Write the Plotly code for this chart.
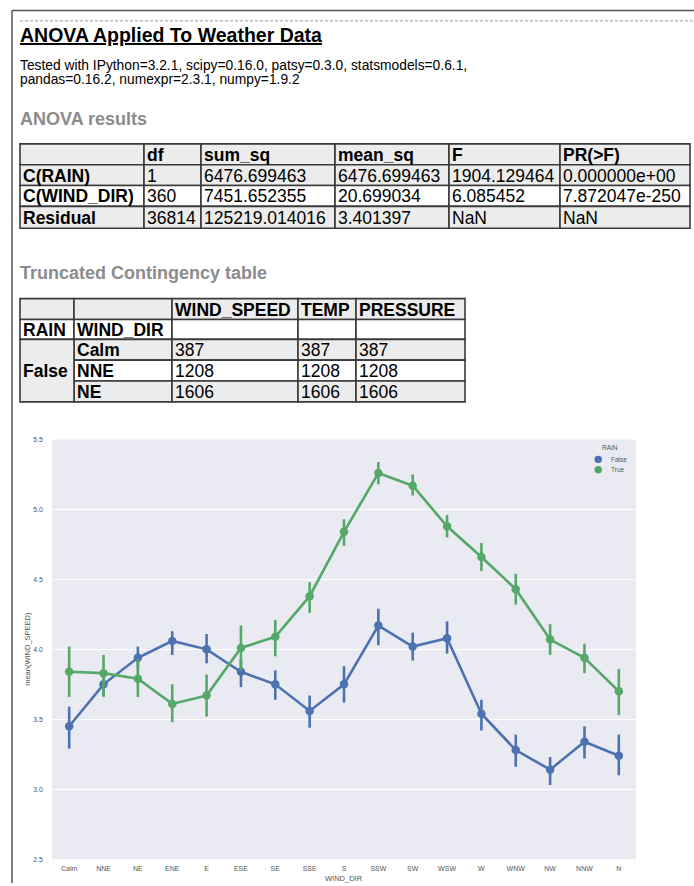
import plotly.graph_objects as go

# ---------------- data ----------------
wind_dirs = ["Calm", "NNE", "NE", "ENE", "E", "ESE", "SE", "SSE", "S",
             "SSW", "SW", "WSW", "W", "WNW", "NW", "NNW", "N"]

# mean wind speed with 95% CI bounds, split by RAIN
false_mean = [3.45, 3.75, 3.94, 4.06, 4.00, 3.84, 3.75, 3.56, 3.75,
              4.17, 4.02, 4.08, 3.54, 3.28, 3.14, 3.34, 3.24]
false_lo = [3.29, 3.67, 3.86, 3.96, 3.90, 3.73, 3.64, 3.44, 3.62,
            4.03, 3.92, 3.97, 3.42, 3.16, 3.03, 3.22, 3.10]
false_hi = [3.59, 3.85, 4.02, 4.13, 4.11, 3.93, 3.85, 3.67, 3.88,
            4.29, 4.12, 4.20, 3.64, 3.39, 3.23, 3.45, 3.39]

true_mean = [3.84, 3.83, 3.79, 3.61, 3.67, 4.01, 4.09, 4.38, 4.84,
             5.26, 5.17, 4.88, 4.66, 4.43, 4.07, 3.94, 3.70]
true_lo = [3.66, 3.66, 3.66, 3.48, 3.52, 3.85, 3.95, 4.26, 4.74,
           5.18, 5.10, 4.80, 4.56, 4.32, 3.96, 3.83, 3.53]
true_hi = [4.02, 3.96, 3.93, 3.75, 3.82, 4.17, 4.21, 4.48, 4.93,
           5.34, 5.25, 4.96, 4.76, 4.54, 4.18, 4.04, 3.86]

y_ticks = [2.5, 3.0, 3.5, 4.0, 4.5, 5.0, 5.5]

# ANOVA results table
anova_cols = ["df", "sum_sq", "mean_sq", "F", "PR(>F)"]
anova_index = ["C(RAIN)", "C(WIND_DIR)", "Residual"]
anova_df = ["1", "360", "36814"]
anova_sum_sq = ["6476.699463", "7451.652355", "125219.014016"]
anova_mean_sq = ["6476.699463", "20.699034", "3.401397"]
anova_F = ["1904.129464", "6.085452", "NaN"]
anova_PR = ["0.000000e+00", "7.872047e-250", "NaN"]

# truncated contingency table
ct_cols = ["WIND_SPEED", "TEMP", "PRESSURE"]
ct_index_names = ["RAIN", "WIND_DIR"]
ct_rain = "False"
ct_dirs = ["Calm", "NNE", "NE"]
ct_wind_speed = [387, 1208, 1606]
ct_temp = [387, 1208, 1606]
ct_pressure = [387, 1208, 1606]

# ---------------- page helpers ----------------
W, H = 694, 886
FONT = "Liberation Sans, Arial, Helvetica, sans-serif"
BLUE = "#4C72B0"
GREEN = "#55A868"
GRID_BG = "#EAEAF2"
ROW_GRAY = "#ECECEC"
RULE = "#3a3a3a"
TABLE_SIZE = 17.5


def fx(x):
    return x / W


def fy(y):
    return 1 - y / H


shapes = []
annotations = []


def text(x, y, s, size, color="#000", bold=False, anchor="left",
         family=FONT, angle=0):
    annotations.append(dict(
        x=fx(x), y=fy(y), xref="paper", yref="paper",
        text=f"<b>{s}</b>" if bold else s, showarrow=False,
        xanchor=anchor, yanchor="middle", textangle=angle,
        borderpad=0, borderwidth=0,
        font=dict(size=size, color=color, family=family)))


def line(x0, y0, x1, y1, color, width, dash="solid"):
    shapes.append(dict(type="line", xref="paper", yref="paper",
                       x0=fx(x0), y0=fy(y0), x1=fx(x1), y1=fy(y1),
                       line=dict(color=color, width=width, dash=dash)))


def cell(x0, y0, x1, y1, fill):
    shapes.append(dict(type="rect", xref="paper", yref="paper",
                       x0=fx(x0), x1=fx(x1), y0=fy(y1), y1=fy(y0),
                       fillcolor=fill, line=dict(color=RULE, width=1.6),
                       layer="below"))


def table(x_edges, y_edges, rows, fills, bold_rows, bold_cols, size):
    for r, row in enumerate(rows):
        for c, val in enumerate(row):
            if val is None:
                continue
            cell(x_edges[c], y_edges[r], x_edges[c + 1], y_edges[r + 1], fills[r])
            if val != "":
                b = r in bold_rows or c in bold_cols
                text(x_edges[c] + 2.5, (y_edges[r] + y_edges[r + 1]) / 2 + 0.5,
                     val, size, bold=b)


# ---------------- page frame and headings ----------------
line(12, 6.5, W, 6.5, "#555", 1.5)
line(12, 6.5, 12, H, "#555", 1.5)
line(20, 17, W, 17, "#9a9a9a", 1, dash="3px,2px")

text(20, 31, "<u>ANOVA Applied To Weather Data</u>", 19.5, bold=True)
text(20, 62, "Tested with IPython=3.2.1, scipy=0.16.0, patsy=0.3.0, statsmodels=0.6.1,",
     13.8)
text(20, 76, "pandas=0.16.2, numexpr=2.3.1, numpy=1.9.2", 13.8)

text(20, 116, "ANOVA results", 18, color="#8c8c8c", bold=True)
text(20, 271, "Truncated Contingency table", 18, color="#8c8c8c", bold=True)

# ANOVA table
anova_rows = [[""] + anova_cols]
for i, name in enumerate(anova_index):
    anova_rows.append([name, anova_df[i], anova_sum_sq[i], anova_mean_sq[i],
                       anova_F[i], anova_PR[i]])
table([20, 144, 201, 335, 449, 560, 690],
      [141, 162, 183, 204, 226],
      anova_rows,
      [ROW_GRAY, ROW_GRAY, "white", ROW_GRAY],
      bold_rows={0}, bold_cols={0}, size=TABLE_SIZE)

# contingency table (first column merged for the RAIN level)
ct_x = [20, 74, 172, 298, 356, 465]
ct_y = [297, 318, 338, 359, 380, 401]
ct_rows = [["", ""] + ct_cols, ct_index_names + ["", "", ""]]
for i, d in enumerate(ct_dirs):
    ct_rows.append([None, d, str(ct_wind_speed[i]), str(ct_temp[i]),
                    str(ct_pressure[i])])
table(ct_x, ct_y, ct_rows,
      [ROW_GRAY, "white", ROW_GRAY, "white", ROW_GRAY],
      bold_rows={0, 1}, bold_cols={0, 1}, size=TABLE_SIZE)
cell(ct_x[0], ct_y[2], ct_x[1], ct_y[5], ROW_GRAY)
text(ct_x[0] + 2.5, (ct_y[2] + ct_y[5]) / 2 + 0.5, ct_rain, TABLE_SIZE, bold=True)

# ---------------- point plot ----------------
fig = go.Figure()


def add_series(mean, lo, hi, color, name):
    fig.add_trace(go.Scatter(
        x=wind_dirs, y=mean, mode="lines+markers", name=name,
        showlegend=False,
        line=dict(color=color, width=2.6),
        marker=dict(color=color, size=8.5),
        error_y=dict(type="data", symmetric=False,
                     array=[h - m for h, m in zip(hi, mean)],
                     arrayminus=[m - l for m, l in zip(mean, lo)],
                     color=color, thickness=2.6, width=0)))


add_series(false_mean, false_lo, false_hi, BLUE, "False")
add_series(true_mean, true_lo, true_hi, GREEN, "True")

# axis titles
text(344, 881, "WIND_DIR", 7.5, color="#555", anchor="center")
text(28, 650, "mean(WIND_SPEED)", 7.5, color="#555", anchor="center", angle=-90)

# legend
text(610, 447, "RAIN", 6.5, color="#555", anchor="center")
for yy, col, lab in [(459, BLUE, "False"), (469.5, GREEN, "True")]:
    shapes.append(dict(type="circle", xref="paper", yref="paper",
                       x0=fx(594.5), x1=fx(602), y0=fy(yy + 3.75), y1=fy(yy - 3.75),
                       fillcolor=col, line=dict(width=0)))
    text(611, yy, lab, 6.5, color="#555")

fig.update_layout(
    width=W, height=H,
    margin=dict(l=0, r=0, t=0, b=0),
    paper_bgcolor="white",
    plot_bgcolor=GRID_BG,
    showlegend=False,
    shapes=shapes,
    annotations=annotations,
    font=dict(family=FONT, color="#555"),
    xaxis=dict(domain=[fx(52), fx(636)], type="category",
               categoryorder="array", categoryarray=wind_dirs,
               range=[-0.5, len(wind_dirs) - 0.5],
               showgrid=False, zeroline=False, showline=False,
               ticks="", ticklabelstandoff=4,
               tickfont=dict(size=7, color="#555")),
    yaxis=dict(domain=[fy(862), fy(439)], range=[2.5, 5.5],
               tickvals=y_ticks, ticktext=[f"{v:.1f}" for v in y_ticks],
               showgrid=True, gridcolor="white", gridwidth=1.2,
               zeroline=False, showline=False, ticks="",
               ticklabelstandoff=8,
               tickfont=dict(size=7, color="#555")),
)

fig.write_html("out.html")
